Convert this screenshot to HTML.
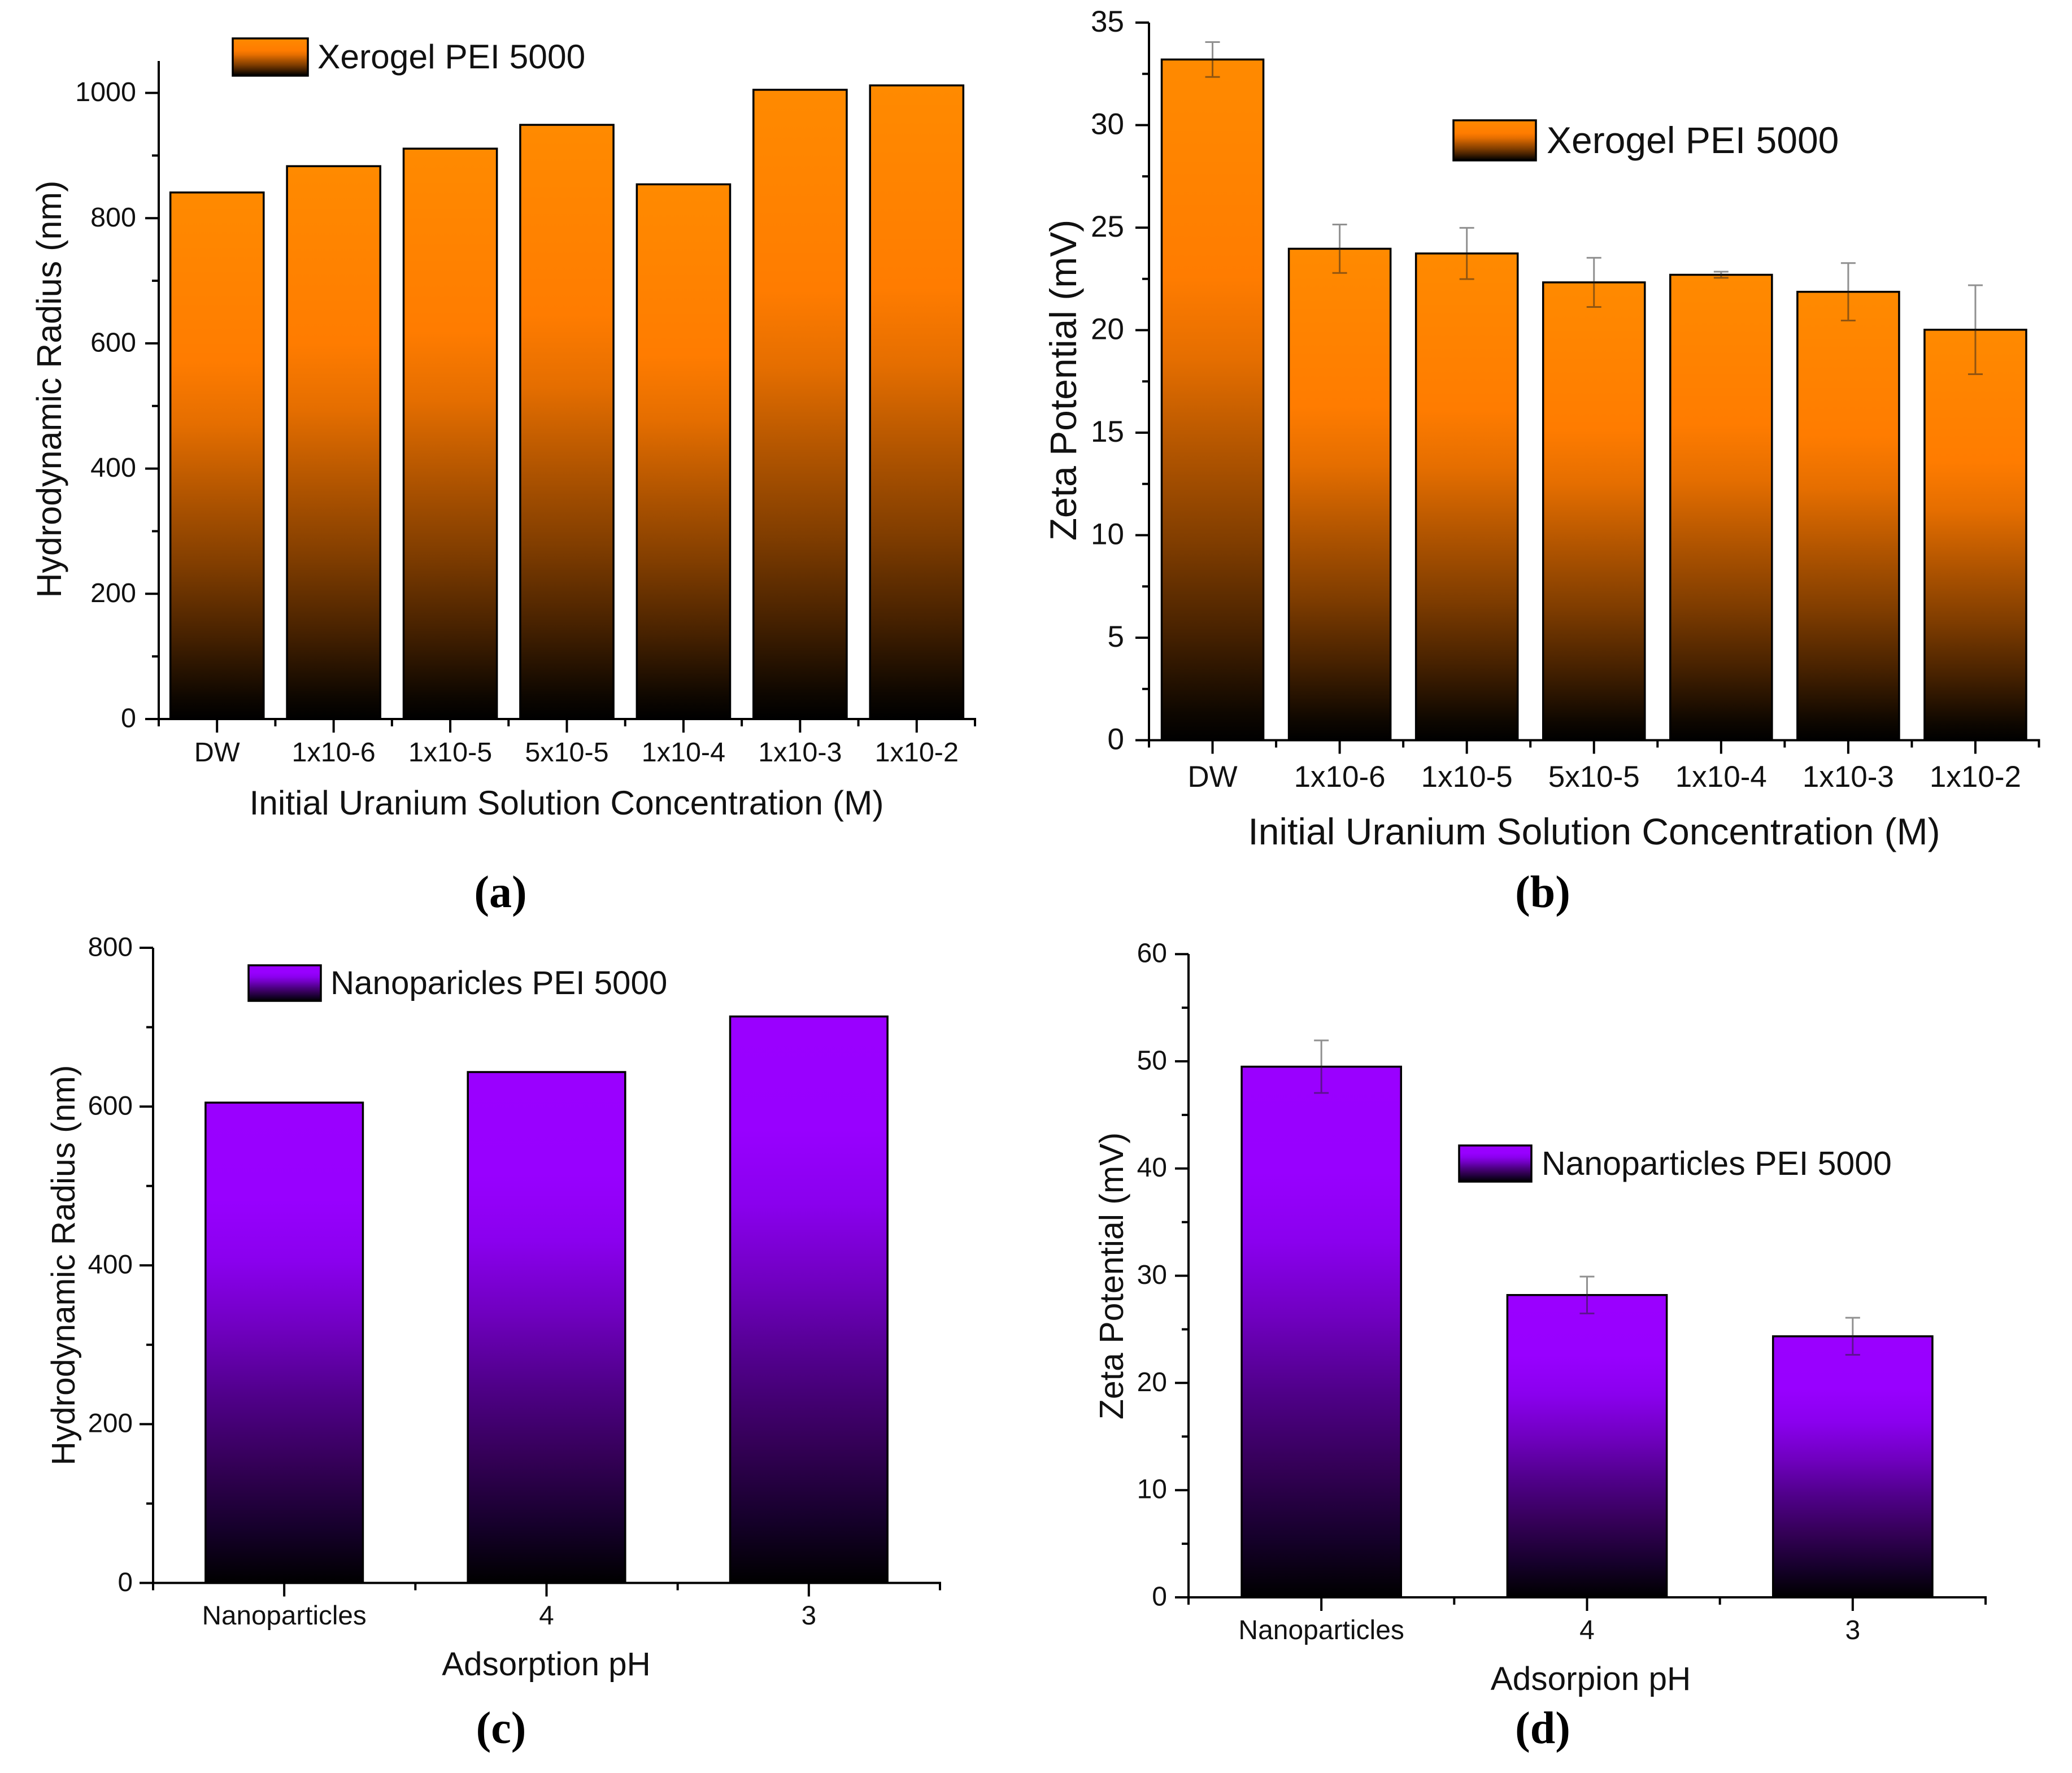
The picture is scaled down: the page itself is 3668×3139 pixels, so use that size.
<!DOCTYPE html>
<html lang="en">
<head>
<meta charset="utf-8">
<title>Hydrodynamic radius and zeta potential bar charts</title>
<style>
  html, body { margin: 0; padding: 0; background: #fff; }
  svg { display: block; }
  text { font-family: "Liberation Sans", Arial, sans-serif; fill: #111; }
  .panel-label { font-family: "Liberation Serif", serif; font-weight: bold; font-size: 80px; text-anchor: middle; fill: #000; }
</style>
</head>
<body>
<svg id="figure" xmlns="http://www.w3.org/2000/svg" width="3668" height="3139" viewBox="0 0 3668 3139">
  <defs>
    <linearGradient id="orange-fill" x1="0" y1="0" x2="0" y2="1">
      <stop offset="0" stop-color="#ff8a00"/>
      <stop offset="0.32" stop-color="#ff7c00"/>
      <stop offset="0.44" stop-color="#e56e00"/>
      <stop offset="0.58" stop-color="#b05400"/>
      <stop offset="0.71" stop-color="#803d00"/>
      <stop offset="0.84" stop-color="#482200"/>
      <stop offset="0.96" stop-color="#0e0700"/>
      <stop offset="1" stop-color="#000000"/>
    </linearGradient>
    <linearGradient id="purple-fill" x1="0" y1="0" x2="0" y2="1">
      <stop offset="0" stop-color="#9a00ff"/>
      <stop offset="0.2" stop-color="#9800ff"/>
      <stop offset="0.33" stop-color="#8a00ee"/>
      <stop offset="0.47" stop-color="#7000c0"/>
      <stop offset="0.61" stop-color="#50008a"/>
      <stop offset="0.75" stop-color="#350058"/>
      <stop offset="0.89" stop-color="#15002a"/>
      <stop offset="1" stop-color="#000000"/>
    </linearGradient>
  </defs>
  <rect width="3668" height="3139" fill="#fff"/>

  <g id="chart-a"></g>
  <g id="chart-b"></g>
  <g id="chart-c"></g>
  <g id="chart-d"></g>

  <g>
    <rect x="412" y="68" width="133" height="66" fill="url(#orange-fill)" stroke="#000" stroke-width="3.5"/>
    <text x="562" y="121" font-size="60.5">Xerogel PEI 5000</text>
  </g>
  <g>
    <rect x="2573" y="213" width="146" height="71" fill="url(#orange-fill)" stroke="#000" stroke-width="3.5"/>
    <text x="2738" y="271" font-size="66">Xerogel PEI 5000</text>
  </g>
  <g>
    <rect x="440" y="1709" width="128" height="63" fill="url(#purple-fill)" stroke="#000" stroke-width="3.5"/>
    <text x="585" y="1760" font-size="58.3">Nanoparicles PEI 5000</text>
  </g>
  <g>
    <rect x="2583" y="2028" width="128" height="64" fill="url(#purple-fill)" stroke="#000" stroke-width="3.5"/>
    <text x="2729" y="2080" font-size="59">Nanoparticles PEI 5000</text>
  </g>

  <text transform="translate(108 689) rotate(-90)" text-anchor="middle" font-size="61">Hydrodynamic Radius (nm)</text>
  <text x="1003" y="1442" text-anchor="middle" font-size="60.5">Initial Uranium Solution Concentration (M)</text>
  <text class="panel-label" x="886" y="1606">(a)</text>

  <text transform="translate(1905 673) rotate(-90)" text-anchor="middle" font-size="66">Zeta Potential (mV)</text>
  <text x="2822" y="1495" text-anchor="middle" font-size="66">Initial Uranium Solution Concentration (M)</text>
  <text class="panel-label" x="2731" y="1606">(b)</text>

  <text transform="translate(132 2240) rotate(-90)" text-anchor="middle" font-size="58.5">Hydrodynamic Radius (nm)</text>
  <text x="967" y="2966" text-anchor="middle" font-size="58.3">Adsorption pH</text>
  <text class="panel-label" x="887" y="3086">(c)</text>

  <text transform="translate(1988 2259) rotate(-90)" text-anchor="middle" font-size="59">Zeta Potential (mV)</text>
  <text x="2816" y="2992" text-anchor="middle" font-size="58.5">Adsorpion pH</text>
  <text class="panel-label" x="2731" y="3086">(d)</text>
</svg>

<script>
// ---- Chart data ----
const concentrationCategories = ['DW', '1x10-6', '1x10-5', '5x10-5', '1x10-4', '1x10-3', '1x10-2'];
const phCategories = ['Nanoparticles', '4', '3'];

const radiusXerogelValues = [841, 883, 911, 949, 854, 1005, 1012];
const radiusXerogelTicks = [0, 200, 400, 600, 800, 1000];
const radiusXerogelMinorTicks = [100, 300, 500, 700, 900];

const zetaXerogelValues = [33.2, 23.97, 23.74, 22.33, 22.7, 21.87, 20.02];
const zetaXerogelErrors = [0.85, 1.18, 1.25, 1.2, 0.15, 1.4, 2.17];
const zetaXerogelTicks = [0, 5, 10, 15, 20, 25, 30, 35];
const zetaXerogelMinorTicks = [2.5, 7.5, 12.5, 17.5, 22.5, 27.5, 32.5];

const radiusNanoValues = [605, 643.5, 713.5];
const radiusNanoTicks = [0, 200, 400, 600, 800];
const radiusNanoMinorTicks = [100, 300, 500, 700];

const zetaNanoValues = [49.5, 28.2, 24.35];
const zetaNanoErrors = [2.45, 1.72, 1.73];
const zetaNanoTicks = [0, 10, 20, 30, 40, 50, 60];
const zetaNanoMinorTicks = [5, 15, 25, 35, 45, 55];

// ---- Drawing helpers ----
const SVG_NS = 'http://www.w3.org/2000/svg';

function add(parent, tag, name, attrs, content) {
  const el = document.createElementNS(SVG_NS, tag);
  
  
  Object.keys(attrs).forEach(function (k) { el.setAttribute(k, attrs[k]); });
  if (content !== undefined) el.textContent = content;
  parent.appendChild(el);
  return el;
}

function drawChart(opt) {
  const g = document.getElementById(opt.id);
  const n = opt.categories.length;
  const yScale = function (v) { return opt.bottom - v * opt.pxPerUnit; };
  const xScale = function (i) { return opt.left + (i + 0.5) * (opt.right - opt.left) / n; };
  const band = (opt.right - opt.left) / n;
  const barWidth = band * opt.barFraction;
  const line = { stroke: '#000', 'stroke-width': 4 };

  // bars
  opt.values.forEach(function (v, i) {
    add(g, 'rect', 'bar-' + opt.key + '-' + opt.categories[i], {
      x: xScale(i) - barWidth / 2,
      y: yScale(v),
      width: barWidth,
      height: opt.bottom - yScale(v),
      fill: 'url(#' + opt.fill + ')',
      stroke: '#000',
      'stroke-width': 3.5
    });
  });

  // error bars
  if (opt.errors) {
    opt.errors.forEach(function (e, i) {
      const cx = xScale(i);
      const hi = yScale(opt.values[i] + e);
      const lo = yScale(opt.values[i] - e);
      const style = { stroke: '#222', 'stroke-opacity': 0.5, 'stroke-width': 3, fill: 'none' };
      add(g, 'path', 'error-bar-' + opt.key + '-' + opt.categories[i], Object.assign({
        d: 'M' + (cx - 13) + ' ' + hi + 'H' + (cx + 13) + 'M' + cx + ' ' + hi + 'V' + lo + 'M' + (cx - 13) + ' ' + lo + 'H' + (cx + 13)
      }, style));
    });
  }

  // axis lines
  add(g, 'line', 'y-axis-' + opt.key, Object.assign({ x1: opt.left, x2: opt.left, y1: opt.top, y2: opt.bottom + 2 }, line));
  add(g, 'line', 'x-axis-' + opt.key, Object.assign({ x1: opt.left - 2, x2: opt.right + 2, y1: opt.bottom, y2: opt.bottom }, line));

  // y ticks
  opt.yTicks.forEach(function (t) {
    const y = yScale(t);
    add(g, 'line', 'y-tick-' + opt.key + '-' + t, Object.assign({ x1: opt.left - 24, x2: opt.left, y1: y, y2: y }, line));
    add(g, 'text', 'y-tick-label-' + opt.key + '-' + t, {
      x: opt.yLabelRight, y: y + opt.tickFont * 0.3, 'text-anchor': 'end', 'font-size': opt.tickFont
    }, String(t));
  });
  opt.yMinorTicks.forEach(function (t) {
    const y = yScale(t);
    add(g, 'line', 'y-minor-tick-' + opt.key + '-' + t, Object.assign({ x1: opt.left - 12, x2: opt.left, y1: y, y2: y }, line));
  });

  // x ticks and labels
  opt.categories.forEach(function (c, i) {
    const x = xScale(i);
    add(g, 'line', 'x-tick-' + opt.key + '-' + c, Object.assign({ x1: x, x2: x, y1: opt.bottom, y2: opt.bottom + 24 }, line));
    add(g, 'text', 'x-tick-label-' + opt.key + '-' + c, {
      x: x, y: opt.xLabelBaseline, 'text-anchor': 'middle', 'font-size': opt.tickFont
    }, c);
  });
  for (let i = 0; i <= n; i++) {
    const x = opt.left + i * band;
    add(g, 'line', 'x-minor-tick-' + opt.key + '-' + i, Object.assign({ x1: x, x2: x, y1: opt.bottom, y2: opt.bottom + 13 }, line));
  }
}

drawChart({
  id: 'chart-a', key: 'a', categories: concentrationCategories,
  values: radiusXerogelValues, yTicks: radiusXerogelTicks, yMinorTicks: radiusXerogelMinorTicks,
  left: 281, right: 1726, bottom: 1273, top: 108, pxPerUnit: 1.1085,
  barFraction: 0.8, fill: 'orange-fill', tickFont: 48.5, yLabelRight: 241, xLabelBaseline: 1348
});
drawChart({
  id: 'chart-b', key: 'b', categories: concentrationCategories,
  values: zetaXerogelValues, errors: zetaXerogelErrors, yTicks: zetaXerogelTicks, yMinorTicks: zetaXerogelMinorTicks,
  left: 2034, right: 3609.5, bottom: 1310.5, top: 40, pxPerUnit: 36.3,
  barFraction: 0.8, fill: 'orange-fill', tickFont: 53, yLabelRight: 1990, xLabelBaseline: 1393
});
drawChart({
  id: 'chart-c', key: 'c', categories: phCategories,
  values: radiusNanoValues, yTicks: radiusNanoTicks, yMinorTicks: radiusNanoMinorTicks,
  left: 271, right: 1664, bottom: 2802.5, top: 1678, pxPerUnit: 1.4056,
  barFraction: 0.6, fill: 'purple-fill', tickFont: 47.6, yLabelRight: 235, xLabelBaseline: 2876
});
drawChart({
  id: 'chart-d', key: 'd', categories: phCategories,
  values: zetaNanoValues, errors: zetaNanoErrors, yTicks: zetaNanoTicks, yMinorTicks: zetaNanoMinorTicks,
  left: 2104, right: 3515, bottom: 2828, top: 1689, pxPerUnit: 18.98,
  barFraction: 0.6, fill: 'purple-fill', tickFont: 48, yLabelRight: 2066, xLabelBaseline: 2902
});
</script>
</body>
</html>
